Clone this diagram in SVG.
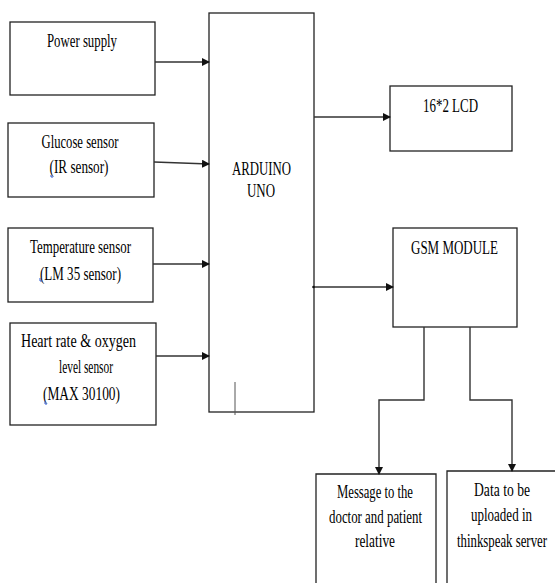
<svg xmlns="http://www.w3.org/2000/svg" width="555" height="583" viewBox="0 0 555 583">
<style>
.box{fill:#fff;stroke:#222;stroke-width:1.3}
.t{font-family:'Liberation Serif','Times New Roman',serif;font-size:18px;fill:#000;text-anchor:middle}
.c{fill:none;stroke:#333;stroke-width:1.4}
.m{fill:none;stroke:#2a5bd7;stroke-width:1}
</style>
<defs>
<marker id="ah" markerWidth="8" markerHeight="8" refX="7" refY="4" orient="auto" markerUnits="userSpaceOnUse">
<path d="M0,0 L8,4 L0,8 Z" fill="#111"/>
</marker>
</defs>
<rect width="555" height="583" fill="#fff"/>
<g id="power">
<rect class="box" x="10" y="22" width="145" height="73"/>
<text class="t" x="82" y="47" textLength="70" lengthAdjust="spacingAndGlyphs">Power supply</text>
</g>
<g id="glucose">
<rect class="box" x="8" y="123" width="146" height="74"/>
<text class="t" x="80" y="148" textLength="77" lengthAdjust="spacingAndGlyphs">Glucose sensor</text>
<text class="t" x="79" y="173" textLength="59" lengthAdjust="spacingAndGlyphs">(IR sensor)</text>
<path class="m" d="M51,175 v2 h2"/>
</g>
<g id="temperature">
<rect class="box" x="8" y="228" width="145" height="74"/>
<text class="t" x="80.5" y="253" textLength="101" lengthAdjust="spacingAndGlyphs">Temperature sensor</text>
<text class="t" x="80.5" y="280" textLength="81" lengthAdjust="spacingAndGlyphs">(LM 35 sensor)</text>
<path class="m" d="M40,278 v3 h2"/>
</g>
<g id="heart">
<rect class="box" x="10" y="323" width="146" height="102"/>
<text class="t" x="78.5" y="347" textLength="115" lengthAdjust="spacingAndGlyphs">Heart rate &amp; oxygen</text>
<text class="t" x="86" y="373" textLength="54" lengthAdjust="spacingAndGlyphs">level sensor</text>
<text class="t" x="81.5" y="400" textLength="77" lengthAdjust="spacingAndGlyphs">(MAX 30100)</text>
<path class="m" d="M45,401 v3 h2"/>
</g>
<g id="arduino">
<rect class="box" x="209" y="13" width="105" height="399"/>
<text class="t" x="261.5" y="175" textLength="59" lengthAdjust="spacingAndGlyphs">ARDUINO</text>
<text class="t" x="261" y="197" textLength="28" lengthAdjust="spacingAndGlyphs">UNO</text>
<line x1="235" y1="382" x2="235" y2="415" stroke="#555" stroke-width="1"/>
</g>
<g id="lcd">
<rect class="box" x="390" y="86" width="122" height="65"/>
<text class="t" x="450.5" y="112" textLength="55" lengthAdjust="spacingAndGlyphs">16*2 LCD</text>
</g>
<g id="gsm">
<rect class="box" x="393" y="228" width="124" height="99"/>
<text class="t" x="454.5" y="254" textLength="87" lengthAdjust="spacingAndGlyphs">GSM MODULE</text>
</g>
<g id="message">
<path class="box" d="M316,583 V474 H436 V583"/>
<text class="t" x="375" y="498" textLength="76" lengthAdjust="spacingAndGlyphs">Message to the</text>
<text class="t" x="375.5" y="523" textLength="93" lengthAdjust="spacingAndGlyphs">doctor and patient</text>
<text class="t" x="375" y="547" textLength="40" lengthAdjust="spacingAndGlyphs">relative</text>
</g>
<g id="data">
<path class="box" d="M447,583 V471 H556"/>
<text class="t" x="502" y="496" textLength="56" lengthAdjust="spacingAndGlyphs">Data to be</text>
<text class="t" x="501.5" y="521" textLength="61" lengthAdjust="spacingAndGlyphs">uploaded in</text>
<text class="t" x="502" y="547" textLength="90" lengthAdjust="spacingAndGlyphs">thinkspeak server</text>
</g>
<g id="connectors">
<line class="c" x1="155" y1="62" x2="209" y2="62" marker-end="url(#ah)"/>
<line class="c" x1="154" y1="162" x2="209" y2="164" marker-end="url(#ah)"/>
<line class="c" x1="153" y1="264" x2="209" y2="264" marker-end="url(#ah)"/>
<line class="c" x1="156" y1="356" x2="209" y2="356" marker-end="url(#ah)"/>
<line class="c" x1="314" y1="117" x2="390" y2="117" marker-end="url(#ah)"/>
<line class="c" x1="313" y1="287" x2="393" y2="287" marker-end="url(#ah)"/>
<circle cx="313.5" cy="287" r="1.3" fill="#111"/>
<path class="c" d="M424,327 V400 H379 V474" marker-end="url(#ah)"/>
<path class="c" d="M470,327 V400 H512 V471" marker-end="url(#ah)"/>
</g>
</svg>
